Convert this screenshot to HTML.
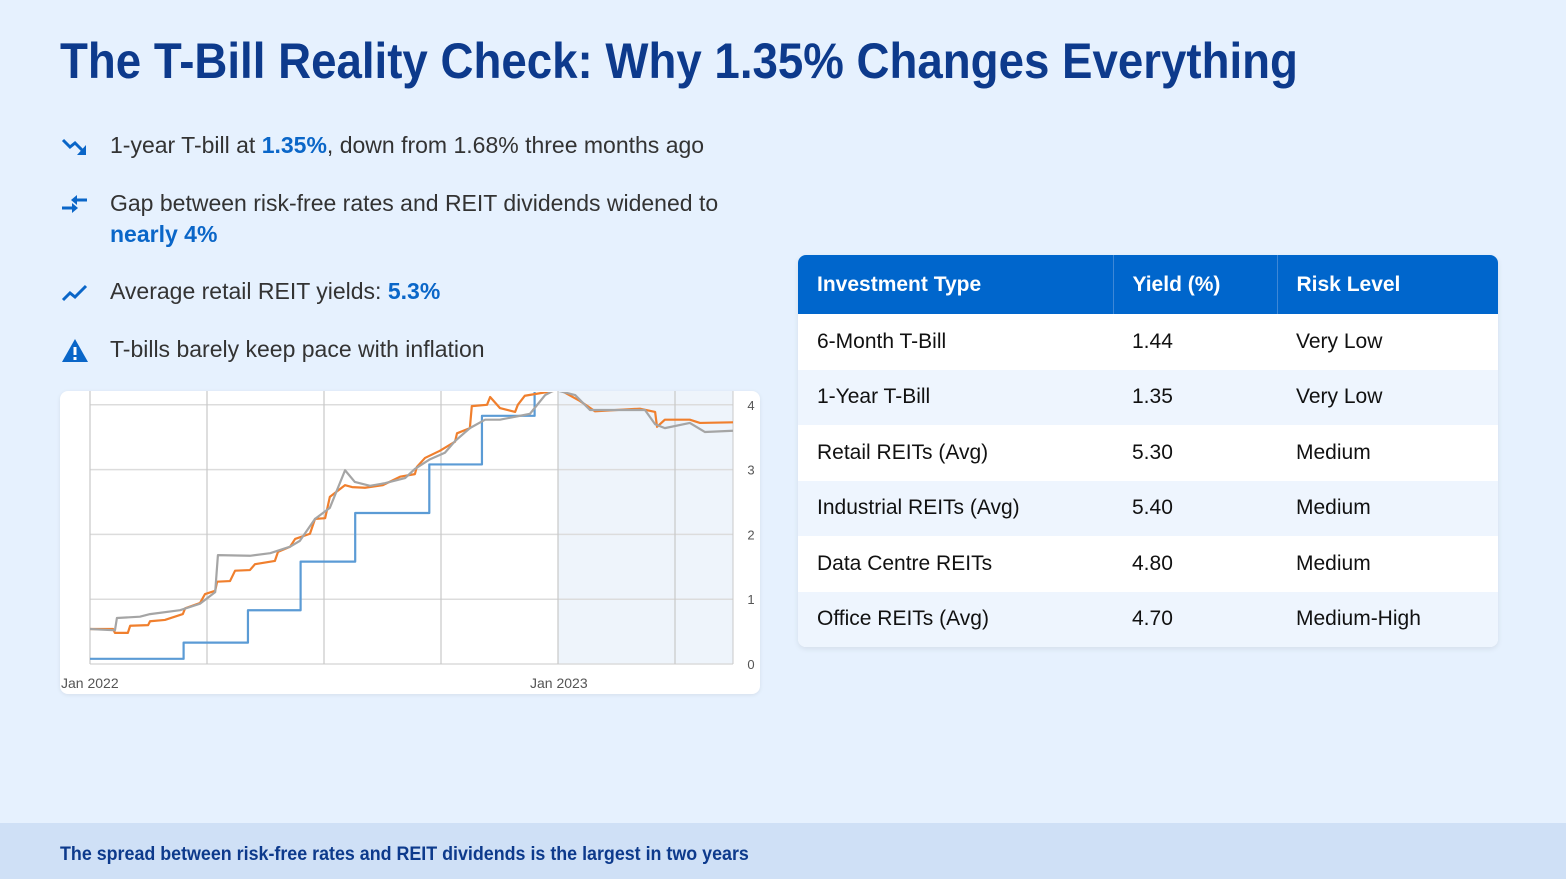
<!DOCTYPE html>
<html><head><meta charset="utf-8"><style>
*{margin:0;padding:0;box-sizing:border-box}
body{width:1566px;height:879px;background:#e6f1fe;font-family:"Liberation Sans",sans-serif;position:relative;overflow:hidden}
.title{position:absolute;left:60px;top:32px;font-size:50px;font-weight:bold;color:#0d3a8c;white-space:nowrap;transform:scaleX(0.913);transform-origin:left top}
.bul{position:absolute;left:110px;font-size:23px;color:#333;white-space:nowrap;transform:scaleX(1.0);transform-origin:left top;line-height:31px}
.bul b{color:#0a66c8}
.ic{position:absolute;left:61px}
.card{position:absolute;left:60px;top:391px;width:700px;height:303px;background:#fff;border-radius:8px;box-shadow:0 1px 4px rgba(0,0,0,.08)}
table{position:absolute;left:798px;top:255px;width:700px;border-collapse:collapse;background:#fff;border-radius:8px;overflow:hidden;box-shadow:0 2px 6px rgba(0,0,0,.08)}
th{background:#0066cc;color:#fff;text-align:left;font-size:21px;height:59px;padding-left:19px;border-right:1px solid #3d87d6}
th:last-child{border:none}
td{font-size:21px;color:#111;height:55.5px;padding-left:19px}
tr:nth-child(odd) td{background:#eef5fe}
.foot{position:absolute;left:0;top:823px;width:1566px;height:56px;background:#cfe0f6}
.foot span{position:absolute;left:60px;top:21px;font-size:19px;font-weight:bold;color:#0d3a8c;white-space:nowrap;transform:scaleX(0.94);transform-origin:left top}
</style></head><body>
<div class="title">The T-Bill Reality Check: Why 1.35% Changes Everything</div>

<svg class="ic" style="top:136px" width="28" height="22"><polyline points="2,4 9,11 14,7 24,17" fill="none" stroke="#0a66c8" stroke-width="3"/><polygon points="25,9 25,19 16,19" fill="#0a66c8"/></svg>
<div class="bul" style="top:130px">1-year T-bill at <b>1.35%</b>, down from 1.68% three months ago</div>

<svg class="ic" style="top:194px" width="28" height="22"><line x1="1" y1="14" x2="13" y2="14" stroke="#0a66c8" stroke-width="3"/><polygon points="11,9 17,14 11,19" fill="#0a66c8"/><line x1="14" y1="6" x2="26" y2="6" stroke="#0a66c8" stroke-width="3"/><polygon points="16,1 10,6 16,11" fill="#0a66c8"/></svg>
<div class="bul" style="top:188px">Gap between risk-free rates and REIT dividends widened to<br><b>nearly 4%</b></div>

<svg class="ic" style="top:282px" width="28" height="22"><polyline points="2,18 9,11 14,15 25,4" fill="none" stroke="#0a66c8" stroke-width="3"/></svg>
<div class="bul" style="top:276px">Average retail REIT yields: <b>5.3%</b></div>

<svg class="ic" style="top:338px" width="28" height="26"><polygon points="14,1 27,24 1,24" fill="#0a66c8"/><rect x="12.5" y="9" width="3" height="8" fill="#fff"/><rect x="12.5" y="19" width="3" height="3" fill="#fff"/></svg>
<div class="bul" style="top:334px">T-bills barely keep pace with inflation</div>

<div class="card">
<svg id="chart" width="700" height="303"></svg>
</div>

<table>
<tr><th style="width:315px">Investment Type</th><th style="width:164px">Yield (%)</th><th>Risk Level</th></tr>
<tr><td>6-Month T-Bill</td><td>1.44</td><td>Very Low</td></tr>
<tr><td>1-Year T-Bill</td><td>1.35</td><td>Very Low</td></tr>
<tr><td>Retail REITs (Avg)</td><td>5.30</td><td>Medium</td></tr>
<tr><td>Industrial REITs (Avg)</td><td>5.40</td><td>Medium</td></tr>
<tr><td>Data Centre REITs</td><td>4.80</td><td>Medium</td></tr>
<tr><td>Office REITs (Avg)</td><td>4.70</td><td>Medium-High</td></tr>
</table>

<div class="foot"><span>The spread between risk-free rates and REIT dividends is the largest in two years</span></div>

<script>
// months since Jan 2022
const blueT=[0,2.4,2.4,4.05,4.05,5.4,5.4,6.8,6.8,8.7,8.7,10.05,10.05,11.4,11.4,16.5];
const blueV=[0.08,0.08,0.33,0.33,0.83,0.83,1.58,1.58,2.33,2.33,3.08,3.08,3.83,3.83,4.4,4.4];
const orangeT=[0,0.59,0.64,0.97,1.03,1.49,1.54,1.92,2.38,2.44,2.82,2.95,3.21,3.26,3.59,3.72,4.10,4.23,4.74,4.82,5.13,5.26,5.64,5.77,6.03,6.15,6.54,6.72,7.05,7.51,7.95,8.33,8.38,8.59,8.97,9.36,9.41,9.74,9.79,10.18,10.26,10.51,10.90,10.97,11.15,12.05,12.56,12.95,14.10,14.49,14.54,14.74,15.38,15.64,16.49];
const orangeV=[0.54,0.54,0.48,0.48,0.59,0.60,0.66,0.68,0.77,0.86,0.94,1.08,1.13,1.27,1.28,1.44,1.45,1.54,1.59,1.73,1.81,1.93,2.01,2.24,2.25,2.58,2.76,2.73,2.72,2.76,2.89,2.93,3.04,3.18,3.29,3.43,3.56,3.64,3.98,4.00,4.12,3.95,3.89,4.00,4.14,4.23,4.06,3.90,3.94,3.89,3.66,3.77,3.77,3.72,3.73];
const grayT=[0,0.64,0.69,1.28,1.54,2.31,2.82,3.21,3.28,4.10,4.62,5.13,5.38,5.77,6.15,6.54,6.79,7.18,7.56,8.08,8.33,8.72,9.10,9.36,9.74,10.13,10.51,11.28,11.67,11.92,12.44,12.82,14.23,14.49,14.74,15.38,15.77,16.49];
const grayV=[0.54,0.52,0.71,0.73,0.77,0.83,0.93,1.11,1.68,1.67,1.71,1.81,1.90,2.24,2.41,2.99,2.81,2.75,2.79,2.87,3.01,3.16,3.26,3.44,3.64,3.77,3.77,3.86,4.15,4.23,4.15,3.92,3.92,3.70,3.64,3.72,3.58,3.60];
const yTicks=[0,1,2,3,4];
const xLabels=["Jan 2022","Jan 2023"];
const xLabelT=[0,12];
const gridT=[0,3,6,9,12,15];

const svg=document.getElementById('chart');
const NS='http://www.w3.org/2000/svg';
const X0=30,X1=673,Y0=273,PPU=64.8,PPM=39;
const sx=t=>X0+t*PPM, sy=v=>Y0-v*PPU;
function mk(tag,a){const e=document.createElementNS(NS,tag);for(const k in a)e.setAttribute(k,a[k]);svg.appendChild(e);return e;}
const defs=mk('defs',{});
const cp=document.createElementNS(NS,'clipPath');cp.setAttribute('id','pc');
const cr=document.createElementNS(NS,'rect');cr.setAttribute('x',X0);cr.setAttribute('y',1);cr.setAttribute('width',X1-X0);cr.setAttribute('height',Y0);
cp.appendChild(cr);defs.appendChild(cp);
const sh=mk('rect',{x:sx(12),y:0,width:X1-sx(12),height:Y0,fill:'#eef4fb'});


yTicks.forEach(v=>{
 const l=mk('line',{x1:X0,x2:X1,y1:sy(v),y2:sy(v),stroke:'#dcdcdc','stroke-width':1.5});
 
 
 const t=mk('text',{x:691,y:sy(v)+5,'font-size':13,fill:'#555','text-anchor':'middle','font-family':'Liberation Sans, sans-serif'});
 t.textContent=v;
 
 
});
gridT.forEach(m=>{
 const l=mk('line',{x1:sx(m),x2:sx(m),y1:0,y2:Y0,stroke:'#c8c8c8','stroke-width':1.2});
 
 
});
mk('line',{x1:X1,x2:X1,y1:0,y2:Y0,stroke:'#c8c8c8'});
xLabels.forEach((s,i)=>{
 const t=mk('text',{x:i==0?1:sx(xLabelT[i])-28,y:297,'font-size':14,fill:'#555','font-family':'Liberation Sans, sans-serif'});
 t.textContent=s;
 
 
});
function line(T,V,c,name){
 const p=mk('polyline',{points:T.map((t,i)=>sx(t)+','+sy(V[i])).join(' '),fill:'none',stroke:c,'stroke-width':2.2,'clip-path':'url(#pc)','stroke-linejoin':'round'});
 
 
}
line(blueT,blueV,'#5b9bd5','series-blue');
line(orangeT,orangeV,'#f07f2d','series-orange');
line(grayT,grayV,'#a5a5a5','series-gray');
</script>
</body></html>
